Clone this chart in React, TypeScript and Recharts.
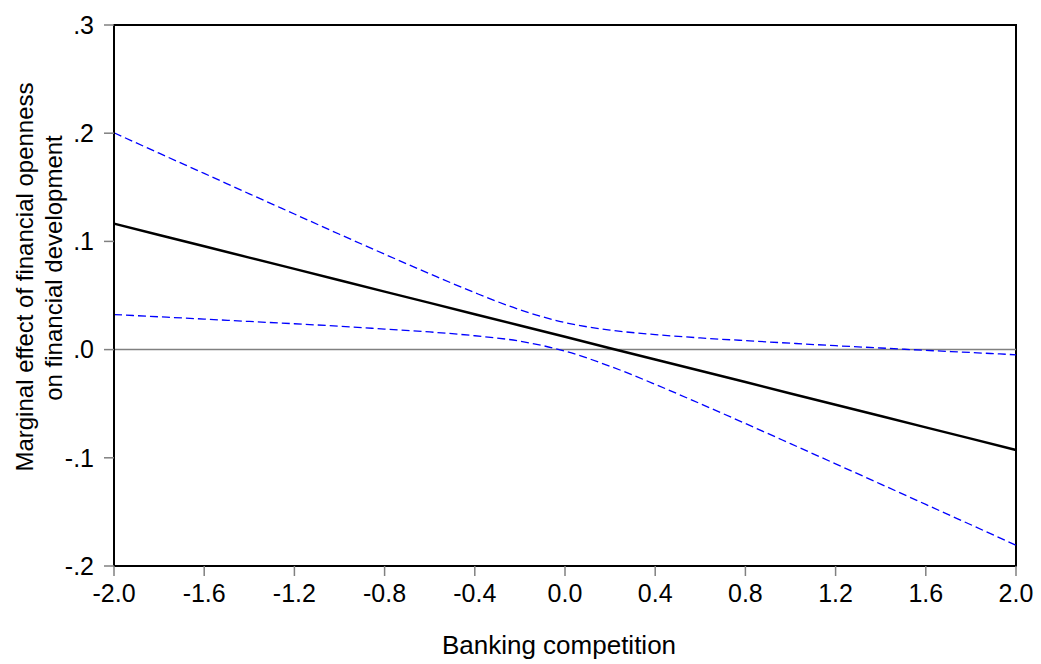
import React from "react";
import { LineChart, Line, XAxis, YAxis, ReferenceLine, ReferenceArea } from "recharts";

// banking competition values along the x axis
const competition = [-2.0, -1.8, -1.6, -1.4, -1.2, -1.0, -0.8, -0.6, -0.4, -0.2, 0.0, 0.2, 0.4, 0.6, 0.8, 1.0, 1.2, 1.4, 1.6, 1.8, 2.0];

// marginal effect (solid black) and the dashed blue bands
const effect = [0.1164, 0.1059, 0.0955, 0.085, 0.0746, 0.0641, 0.0536, 0.0432, 0.0327, 0.0223, 0.0118, 0.0013, -0.0091, -0.0196, -0.03, -0.0405, -0.051, -0.0614, -0.0719, -0.0823, -0.0928];
const upperBand = [0.2004, 0.1815, 0.1628, 0.144, 0.1253, 0.1066, 0.0882, 0.0701, 0.0526, 0.0368, 0.025, 0.018, 0.0139, 0.0108, 0.0083, 0.0059, 0.0036, 0.0015, -0.0007, -0.0027, -0.0048];
const lowerBand = [0.0324, 0.0303, 0.0282, 0.026, 0.0239, 0.0216, 0.019, 0.0163, 0.0128, 0.0078, -0.0014, -0.0154, -0.0321, -0.05, -0.0683, -0.0869, -0.1056, -0.1243, -0.1431, -0.1619, -0.1808];

const xTicks = [-2.0, -1.6, -1.2, -0.8, -0.4, 0.0, 0.4, 0.8, 1.2, 1.6, 2.0];
const yTicks = [-0.2, -0.1, 0.0, 0.1, 0.2, 0.3];

const yTitle = ["Marginal effect of financial openness", "on financial development"];
const xTitle = "Banking competition";

const data = competition.map((x, i) => ({
  x,
  effect: effect[i],
  upper: upperBand[i],
  lower: lowerBand[i],
}));

const font = "'Liberation Sans', Arial, sans-serif";

const fmtY = (v: number) => v.toFixed(1).replace("0.", ".");

const YTitle = () => (
  <g fontFamily={font} fontSize={24} fill="#000">
    <text x={33} y={277} textAnchor="middle" transform="rotate(-90 33 277)">{yTitle[0]}</text>
    <text x={62} y={268} textAnchor="middle" transform="rotate(-90 62 268)">{yTitle[1]}</text>
  </g>
);

const XTitle = () => (
  <text x={559} y={654} textAnchor="middle" fontFamily={font} fontSize={26} fill="#000">
    {xTitle}
  </text>
);

export default function App() {
  return (
    <div style={{ position: "absolute", left: 0, top: 0, background: "#fff" }}>
      <LineChart width={1041} height={664} data={data} margin={{ top: 25, right: 25, bottom: 0, left: 0 }}>
        <XAxis
          dataKey="x"
          type="number"
          domain={[-2, 2]}
          ticks={xTicks}
          tickFormatter={(v: number) => v.toFixed(1)}
          height={98}
          tickSize={10}
          tickMargin={8}
          axisLine={{ stroke: "#000", strokeWidth: 2 }}
          tickLine={{ stroke: "#808080", strokeWidth: 1.5 }}
          tick={{ fill: "#000", fontSize: 25, fontFamily: font }}
          label={{ content: () => <XTitle /> }}
        />
        <YAxis
          type="number"
          domain={[-0.2, 0.3]}
          ticks={yTicks}
          tickFormatter={fmtY}
          width={114}
          tickSize={10}
          tickMargin={10}
          axisLine={{ stroke: "#000", strokeWidth: 2 }}
          tickLine={{ stroke: "#808080", strokeWidth: 1.5 }}
          tick={{ fill: "#000", fontSize: 25, fontFamily: font }}
          label={{ content: () => <YTitle /> }}
        />
        <ReferenceArea x1={-2} x2={2} y1={-0.2} y2={0.3} fill="none" fillOpacity={0} stroke="#000" strokeWidth={2} />
        <ReferenceLine y={0} stroke="#808080" strokeWidth={1.5} />
        <Line type="monotone" dataKey="upper" stroke="#0000ff" strokeWidth={1.3} strokeDasharray="8 4" dot={false} isAnimationActive={false} />
        <Line type="monotone" dataKey="lower" stroke="#0000ff" strokeWidth={1.3} strokeDasharray="8 4" dot={false} isAnimationActive={false} />
        <Line type="linear" dataKey="effect" stroke="#000" strokeWidth={2.5} dot={false} isAnimationActive={false} />
      </LineChart>
    </div>
  );
}
